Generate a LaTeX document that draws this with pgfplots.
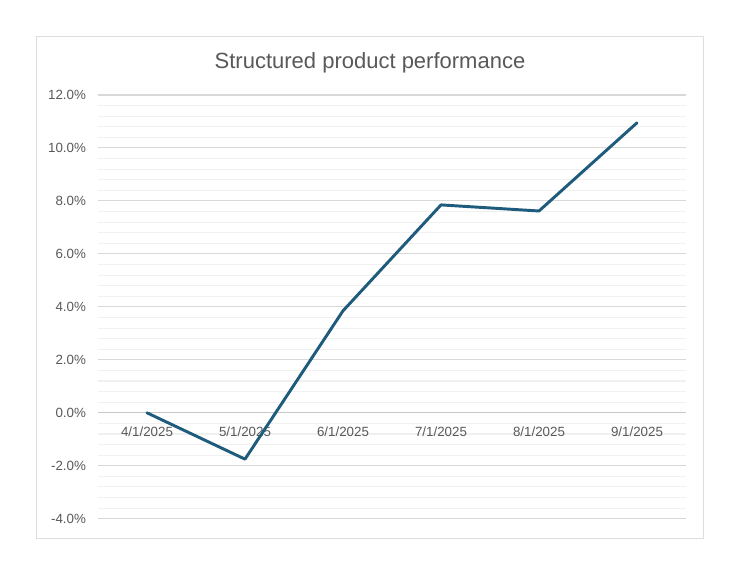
\documentclass[border=0pt]{standalone}
\usepackage{fontspec}
\setmainfont{Liberation Sans}
\usepackage{pgfplots}
\pgfplotsset{compat=1.18}
\definecolor{linecol}{RGB}{31,91,124}
\definecolor{txt}{RGB}{89,89,89}
\definecolor{majgrid}{RGB}{217,217,217}
\definecolor{mingrid}{RGB}{240,240,240}
\definecolor{axcol}{RGB}{200,200,200}
\definecolor{frame}{RGB}{222,222,222}
\begin{document}
\begin{tikzpicture}[x=0.75pt,y=0.75pt]
\fill[white] (0,0) rectangle (740,575);
\draw[frame,line width=1.1pt] (36.7,36.7) rectangle (703.3,538.3);
\node[txt,font=\fontsize{16.5}{19}\selectfont] at (370,512) {Structured product performance};
\begin{axis}[
  at={(73.5pt,42.2pt)}, anchor=south west,
  scale only axis, width=441pt, height=317.8pt,
  xmin=-0.5, xmax=5.5, ymin=-4, ymax=12,
  axis x line*=middle, axis y line*=left,
  y axis line style={draw=none},
  x axis line style={draw=axcol, line width=0.8pt},
  xtick={0,...,5},
  xticklabels={4/1/2025,5/1/2025,6/1/2025,7/1/2025,8/1/2025,9/1/2025},
  xtick style={draw=none},
  ytick={-4,-2,...,12},
  ytick style={draw=none},
  minor y tick num=4,
  ymajorgrids, yminorgrids,
  major grid style={draw=majgrid, line width=0.8pt},
  minor grid style={draw=mingrid, line width=0.8pt},
  extra x ticks={-0.5,0.5,1.5,2.5,3.5,4.5,5.5},
  extra x tick labels={},
  extra x tick style={grid=none, major tick length=3pt, tick align=outside,
     tick style={draw=axcol, line width=0.8pt}},
  /pgf/number format/assume math mode=true,
  yticklabel={\pgfmathprintnumber[fixed,fixed zerofill,precision=1]{\tick}\%},
  ticklabel style={font=\fontsize{10}{12}\selectfont, text=txt},
  xticklabel style={yshift=-7pt},
  yticklabel style={xshift=-5.5pt},
]
\addplot[linecol, line width=2.2pt, line join=round, line cap=round, mark=none]
  coordinates {(0,0.0) (1,-1.75) (2,3.85) (3,7.85) (4,7.62) (5,10.95)};
\end{axis}
\end{tikzpicture}
\end{document}
